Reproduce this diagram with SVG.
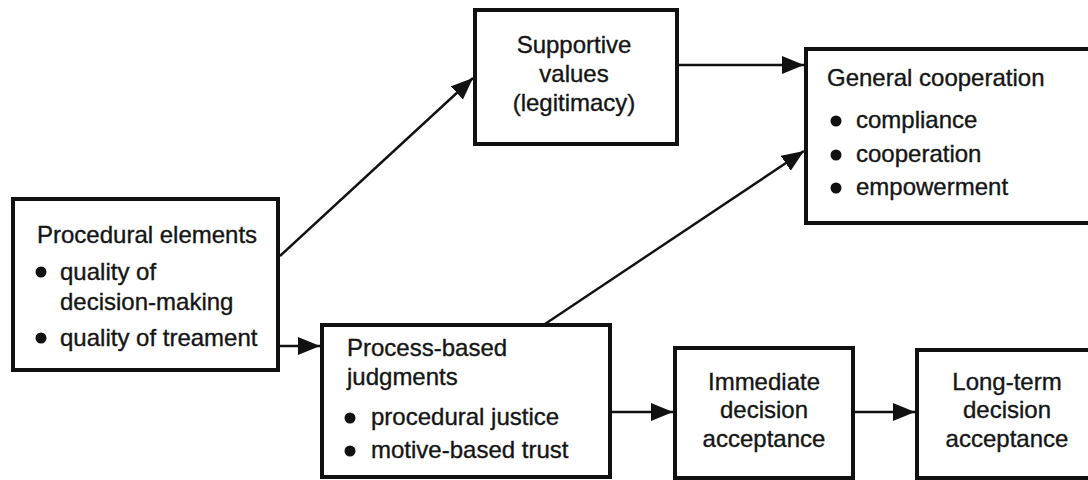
<svg xmlns="http://www.w3.org/2000/svg" width="1088" height="480" viewBox="0 0 1088 480">
<style>
.box{fill:#fff;stroke:#111;stroke-width:4}
.t{font-family:"Liberation Sans",Arial,sans-serif;font-size:24px;fill:#151515;stroke:#151515;stroke-width:0.35}
.c{text-anchor:middle}
.dot{fill:#111}
.ln{stroke:#111;stroke-width:2.4;fill:none}
</style>
<defs>
<marker id="ah" markerUnits="userSpaceOnUse" markerWidth="24" markerHeight="20" refX="22" refY="9" orient="auto">
<path d="M0,0 L22,9 L0,18 Z" fill="#111"/>
</marker>
</defs>
<rect width="1088" height="480" fill="#fff"/>
<g id="connectors">
<line class="ln" x1="280" y1="256" x2="473" y2="78" marker-end="url(#ah)"/>
<line class="ln" x1="677" y1="65" x2="804" y2="65" marker-end="url(#ah)"/>
<line class="ln" x1="545" y1="324" x2="804" y2="151" marker-end="url(#ah)"/>
<line class="ln" x1="278" y1="346" x2="320" y2="346" marker-end="url(#ah)"/>
<line class="ln" x1="610" y1="412" x2="673" y2="412" marker-end="url(#ah)"/>
<line class="ln" x1="853" y1="412" x2="915" y2="412" marker-end="url(#ah)"/>
</g>
<g id="procedural">
<rect class="box" x="13" y="199" width="265" height="171"/>
<text class="t" x="37" y="243">Procedural elements</text>
<circle class="dot" cx="41" cy="272" r="5.5"/>
<text class="t" x="60" y="280">quality of</text>
<text class="t" x="60" y="310">decision-making</text>
<circle class="dot" cx="41" cy="338" r="5.5"/>
<text class="t" x="60" y="346">quality of treament</text>
</g>
<g id="supportive">
<rect class="box" x="475" y="10" width="202" height="134"/>
<text class="t c" x="574" y="53">Supportive</text>
<text class="t c" x="574" y="82">values</text>
<text class="t c" x="574" y="111">(legitimacy)</text>
</g>
<g id="general">
<rect class="box" x="806" y="49" width="300" height="174"/>
<text class="t" x="827" y="86">General cooperation</text>
<circle class="dot" cx="836" cy="121" r="5.5"/>
<text class="t" x="856" y="128">compliance</text>
<circle class="dot" cx="836" cy="155" r="5.5"/>
<text class="t" x="856" y="162">cooperation</text>
<circle class="dot" cx="836" cy="188" r="5.5"/>
<text class="t" x="856" y="195">empowerment</text>
</g>
<g id="process">
<rect class="box" x="322" y="325" width="288" height="152"/>
<text class="t" x="347" y="356">Process-based</text>
<text class="t" x="347" y="385">judgments</text>
<circle class="dot" cx="350" cy="418" r="5.5"/>
<text class="t" x="371" y="425">procedural justice</text>
<circle class="dot" cx="350" cy="451" r="5.5"/>
<text class="t" x="371" y="458">motive-based trust</text>
</g>
<g id="immediate">
<rect class="box" x="675" y="348" width="178" height="130"/>
<text class="t c" x="764" y="390">Immediate</text>
<text class="t c" x="764" y="418">decision</text>
<text class="t c" x="764" y="447">acceptance</text>
</g>
<g id="longterm">
<rect class="box" x="917" y="350" width="200" height="128"/>
<text class="t c" x="1007" y="390">Long-term</text>
<text class="t c" x="1007" y="418">decision</text>
<text class="t c" x="1007" y="447">acceptance</text>
</g>
</svg>
